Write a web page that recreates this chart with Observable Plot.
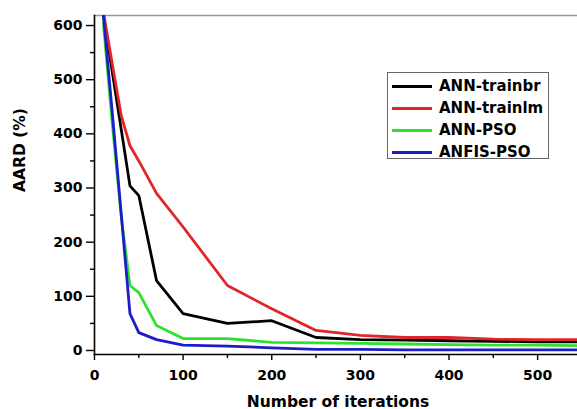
<!DOCTYPE html>
<html>
<head>
<meta charset="utf-8">
<script src="https://cdn.jsdelivr.net/npm/d3@7"></script>
<script src="https://cdn.jsdelivr.net/npm/@observablehq/plot@0.6"></script>
<style>
  body { margin: 0; background: #fff; }
  #wrap { position: relative; width: 577px; height: 409px; overflow: hidden; }
  #legend {
    position: absolute; left: 387px; top: 72px; width: 162px; height: 87px;
    border: 1px solid #666; background: #fff; box-sizing: border-box;
    font-family: "DejaVu Sans", sans-serif; font-weight: bold; font-size: 15px; color: #000;
  }
  .row { position: absolute; left: 0; height: 22px; display: flex; align-items: center; }
  .sw { width: 40px; height: 3px; margin-left: 4px; margin-right: 7px; }
</style>
</head>
<body>
<div id="wrap"><div id="legend"></div></div>
<script>
const iterations = [10, 20, 30, 40, 50, 70, 100, 150, 200, 250, 300, 350, 400, 450, 500, 550];
const annTrainbr = [620, 515, 410, 304, 286, 129, 68, 50, 55, 24, 20, 19, 18, 17, 16, 16];
const annTrainlm = [625, 530, 435, 378, 350, 290, 228, 120, 77, 37, 28, 24, 24, 21, 20, 20];
const annPso     = [605, 420, 250, 120, 107, 46, 22, 22, 15, 14, 13, 12, 11, 10, 10, 9];
const anfisPso   = [620, 440, 255, 68, 33, 20, 10, 8, 5, 2, 2, 1, 1, 1, 1, 1];

const seriesNames = ["ANN-trainbr", "ANN-trainlm", "ANN-PSO", "ANFIS-PSO"];
const seriesColors = ["#000000", "#e0262a", "#2fe02f", "#1c1cc8"];
const seriesValues = [annTrainbr, annTrainlm, annPso, anfisPso];

const xTicks = [0, 100, 200, 300, 400, 500];
const xMinor = [50, 150, 250, 350, 450];
const yTicks = [0, 100, 200, 300, 400, 500, 600];
const yMinor = [50, 150, 250, 350, 450, 550];

const rows = [];
seriesNames.forEach((name, i) => {
  iterations.forEach((it, j) => rows.push({series: name, x: it, y: seriesValues[i][j]}));
});

const font = {fontFamily: "DejaVu Sans", fontWeight: "bold"};

const chart = Plot.plot({
  width: 577,
  height: 409,
  marginLeft: 94,
  marginRight: 0,
  marginTop: 15,
  marginBottom: 55,
  style: {fontFamily: "DejaVu Sans", fontWeight: "bold", fontSize: "14px", background: "#fff", overflow: "hidden"},
  x: {domain: [0, 545]},
  y: {domain: [-7.4, 618.5]},
  color: {domain: seriesNames, range: seriesColors},
  marks: [
    Plot.frame({anchor: "top", stroke: "#999", strokeWidth: 1.5}),
    Plot.line(rows, {x: "x", y: "y", z: "series", stroke: "series", strokeWidth: 2.8, clip: true, strokeLinejoin: "miter"}),
    Plot.frame({anchor: "left", stroke: "#000", strokeWidth: 1.6}),
    Plot.frame({anchor: "bottom", stroke: "#000", strokeWidth: 1.6}),
    Plot.axisY({ticks: yTicks, tickSize: 8, tickPadding: 4, tickFormat: d => String(d), label: null, fontSize: 14, strokeWidth: 1.4, ...font}),
    Plot.axisY({ticks: yMinor, tickSize: 4, text: null, label: null, strokeWidth: 1.4}),
    Plot.axisX({ticks: xTicks, tickSize: 6, tickPadding: 10, tickFormat: d => String(d), label: null, fontSize: 14, strokeWidth: 1.4, ...font}),
    Plot.axisX({ticks: xMinor, tickSize: 4, text: null, label: null, strokeWidth: 1.4}),
    Plot.text(["Number of iterations"], {frameAnchor: "bottom", dx: 2, dy: 52, lineAnchor: "bottom", fontSize: 15.5, ...font, fill: "#000"}),
    Plot.text(["AARD (%)"], {frameAnchor: "left", dx: -74, dy: 7, rotate: -90, fontSize: 15.5, ...font, fill: "#000"})
  ]
});

const wrap = document.getElementById("wrap");
wrap.insertBefore(chart, wrap.firstChild);

const legend = document.getElementById("legend");
seriesNames.forEach((name, i) => {
  const r = document.createElement("div");
  r.className = "row";
  r.style.top = (2 + i * 22) + "px";
  const sw = document.createElement("span");
  sw.className = "sw";
  sw.style.background = seriesColors[i];
  const t = document.createElement("span");
  t.textContent = name;
  r.appendChild(sw); r.appendChild(t);
  legend.appendChild(r);
});
</script>
</body>
</html>
